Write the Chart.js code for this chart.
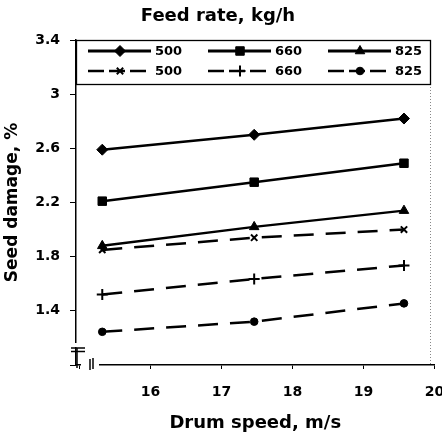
<!DOCTYPE html>
<html><head><meta charset="utf-8">
<script src="https://cdn.jsdelivr.net/npm/chart.js@4/dist/chart.umd.min.js"></script>
<style>html,body{margin:0;padding:0;background:#fff}#wrap{width:442px;height:434px}</style>
</head><body><div id="wrap"><canvas id="c" width="442" height="434"></canvas></div>
<script>
// ---- data ----
const xTicks = [15, 16, 17, 18, 19, 20];
const yTicks = [1.0, 1.4, 1.8, 2.2, 2.6, 3.0, 3.4];
const drumSpeed = [15.32, 17.46, 19.57];
const feedRates = ['500', '660', '825', '500', '660', '825'];
const solid500 = [2.59, 2.70, 2.82];
const solid660 = [2.21, 2.35, 2.49];
const solid825 = [1.88, 2.02, 2.14];
const dashed500 = [1.85, 1.94, 2.00];
const dashed660 = [1.52, 1.635, 1.735];
const dashed825 = [1.245, 1.32, 1.455];

const series = [solid500, solid660, solid825, dashed500, dashed660, dashed825];
const pointStyles = ['rectRot', 'rect', 'triangle', 'crossRot', 'cross', 'circle'];
const isDashed = [false, false, false, true, true, true];
const radii = [5.5, 6, 5.5, 4.5, 5.5, 3.8];

Chart.defaults.font.family = '"DejaVu Sans", Arial, sans-serif';
Chart.defaults.color = '#000';

const datasets = series.map((vals, i) => ({
  label: feedRates[i],
  data: vals.map((v, j) => ({ x: drumSpeed[j], y: v })),
  showLine: true,
  borderColor: '#000',
  backgroundColor: '#000',
  borderWidth: 2.5,
  borderDash: isDashed[i] ? [20, 12] : [],
  pointStyle: pointStyles[i],
  pointRadius: radii[i],
  pointHoverRadius: radii[i],
  pointBackgroundColor: '#000',
  pointBorderColor: '#000',
  pointBorderWidth: (pointStyles[i] === 'cross' || pointStyles[i] === 'crossRot') ? 2 : 1
}));

const boxLegend = {
  id: 'boxLegend',
  afterDraw(chart) {
    const { ctx, chartArea: ca } = chart;
    const x0 = ca.left, y0 = ca.top, x1 = 430, y1 = 84;
    ctx.save();
    // right dotted frame
    ctx.strokeStyle = '#888'; ctx.lineWidth = 1; ctx.setLineDash([1, 2]);
    ctx.beginPath(); ctx.moveTo(x1 + 0.5, y1); ctx.lineTo(x1 + 0.5, ca.bottom); ctx.stroke();
    ctx.setLineDash([]);
    // legend box
    ctx.fillStyle = '#fff'; ctx.fillRect(x0, y0, x1 - x0, y1 - y0);
    ctx.strokeStyle = '#000'; ctx.lineWidth = 1.3;
    ctx.strokeRect(x0 + 0.5, y0 + 0.5, x1 - x0, y1 - y0);
    chart.data.datasets.forEach((ds, i) => {
      const col = i % 3, row = Math.floor(i / 3);
      const lx = x0 + 12 + col * 120;
      const ly = y0 + 11 + row * 20;
      ctx.strokeStyle = '#000'; ctx.fillStyle = '#000';
      ctx.lineWidth = row === 0 ? 3 : 2.5;
      ctx.setLineDash(row === 1 ? [16, 5] : []);
      ctx.beginPath(); ctx.moveTo(lx, ly); ctx.lineTo(lx + 63, ly); ctx.stroke();
      ctx.setLineDash([]);
      ctx.lineWidth = ds.pointBorderWidth;
      Chart.helpers.drawPoint(ctx, { pointStyle: ds.pointStyle, radius: ds.pointRadius, rotation: 0, borderWidth: ds.pointBorderWidth }, lx + 32, ly);
      ctx.font = 'bold 13px "DejaVu Sans", Arial, sans-serif';
      ctx.textBaseline = 'middle'; ctx.textAlign = 'left';
      ctx.fillText(ds.label, lx + 67, ly + 1);
    });
    // axis break symbols
    ctx.fillStyle = '#fff';
    ctx.fillRect(ca.left - 2, 343, 5, 4);
    ctx.fillRect(81, 361, 18, 8);
    ctx.strokeStyle = '#000'; ctx.lineWidth = 1.5;
    const ln = (a, b, c, d) => { ctx.beginPath(); ctx.moveTo(a, b); ctx.lineTo(c, d); ctx.stroke(); };
    ln(71, 348, 85, 348); ln(71, 351.5, 85, 351.5); ln(77, 348, 77, 368);
    ln(90, 359, 90, 370); ln(93, 358, 93, 369);
    ctx.restore();
  }
};

new Chart(document.getElementById('c'), {
  type: 'scatter',
  data: { datasets },
  plugins: [boxLegend],
  options: {
    responsive: false,
    animation: false,
    events: [],
    layout: { padding: { left: 0, right: 6, top: 0, bottom: 0 } },
    plugins: {
      legend: { display: false },
      tooltip: { enabled: false },
      title: {
        display: true,
        text: 'Feed rate, kg/h',
        font: { size: 18, weight: 'bold' },
        color: '#000',
        padding: { top: 6, bottom: 12.4 }
      }
    },
    scales: {
      x: {
        type: 'linear',
        min: 14.95, max: 20,
        afterBuildTicks: s => { s.ticks = xTicks.map(v => ({ value: v })); },
        afterFit: s => { s.height = 69; s.paddingLeft = 0; s.paddingRight = 0; },
        ticks: {
          font: { size: 14, weight: 'bold' }, color: '#000', padding: 15,
          maxRotation: 0, autoSkip: false,
          callback: v => (v === 15 ? '' : String(v))
        },
        grid: { display: true, drawOnChartArea: false, drawTicks: true, tickLength: 4, color: '#000', lineWidth: 1 },
        border: { display: true, color: '#000', width: 1.5 },
        title: { display: true, text: 'Drum speed, m/s', font: { size: 18, weight: 'bold' }, color: '#000', padding: { top: 0, bottom: 0 } }
      },
      y: {
        min: 1.0, max: 3.4,
        afterBuildTicks: s => { s.ticks = yTicks.map(v => ({ value: v })); },
        afterFit: s => { s.width = 76; s.paddingTop = 0; s.paddingBottom = 0; },
        ticks: {
          font: { size: 14, weight: 'bold' }, color: '#000', padding: 10, autoSkip: false,
          callback: v => (Math.abs(v - 1) < 1e-9 ? '' : String(Math.round(v * 10) / 10))
        },
        grid: { display: true, drawOnChartArea: false, drawTicks: true, tickLength: 6, color: '#000', lineWidth: 1 },
        border: { display: true, color: '#000', width: 1.5 },
        title: { display: true, text: 'Seed damage, %', font: { size: 17, weight: 'bold' }, color: '#000', padding: { top: 2, bottom: 0 } }
      }
    }
  }
});
</script>
</body></html>
